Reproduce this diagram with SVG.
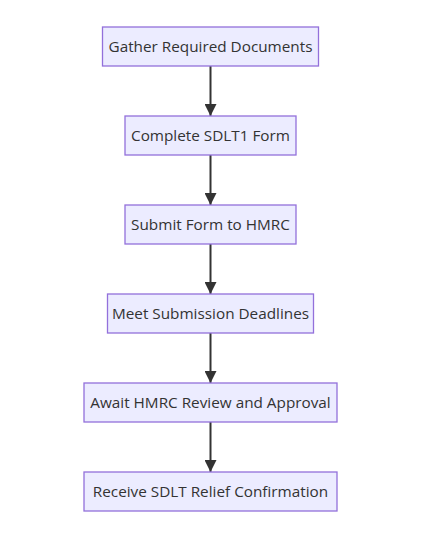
<svg xmlns="http://www.w3.org/2000/svg" width="421" height="533" viewBox="0 0 421 533">
<style>
.node rect{fill:#ECECFF;stroke:#9370DB;stroke-width:1.3}
.node text{font-family:"Trebuchet MS","Open Sans","Liberation Sans",sans-serif;font-size:15.3px;fill:#333;text-anchor:middle;dominant-baseline:central}
.edge{stroke:#333;stroke-width:2;fill:none}
</style>
<defs>
<marker id="arr" viewBox="0 0 10 10" refX="10" refY="5" markerWidth="6" markerHeight="6" markerUnits="strokeWidth" orient="auto">
<path d="M0,0 L10,5 L0,10 z" fill="#333"/>
</marker>
</defs>
<rect width="421" height="533" fill="#fff"/>
<g id="connectors">
<line class="edge" x1="210.5" y1="66" x2="210.5" y2="116" marker-end="url(#arr)"/>
<line class="edge" x1="210.5" y1="155" x2="210.5" y2="205" marker-end="url(#arr)"/>
<line class="edge" x1="210.5" y1="244" x2="210.5" y2="294" marker-end="url(#arr)"/>
<line class="edge" x1="210.5" y1="333" x2="210.5" y2="383" marker-end="url(#arr)"/>
<line class="edge" x1="210.5" y1="422" x2="210.5" y2="472" marker-end="url(#arr)"/>
</g>
<g id="n1" class="node"><rect x="102.5" y="27" width="216" height="39"/><text x="210.5" y="46">Gather Required Documents</text></g>
<g id="n2" class="node"><rect x="125" y="116" width="171" height="39"/><text x="210.5" y="135">Complete SDLT1 Form</text></g>
<g id="n3" class="node"><rect x="125" y="205" width="171" height="39"/><text x="210.5" y="224">Submit Form to HMRC</text></g>
<g id="n4" class="node"><rect x="107.5" y="294" width="206" height="39"/><text x="210.5" y="313">Meet Submission Deadlines</text></g>
<g id="n5" class="node"><rect x="84" y="383" width="253" height="39"/><text x="210.5" y="402">Await HMRC Review and Approval</text></g>
<g id="n6" class="node"><rect x="84" y="472" width="253" height="39"/><text x="210.5" y="491">Receive SDLT Relief Confirmation</text></g>
</svg>
